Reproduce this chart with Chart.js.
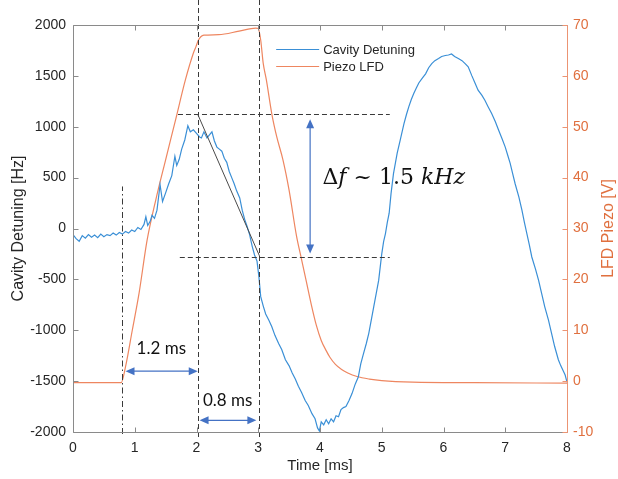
<!DOCTYPE html>
<html><head><meta charset="utf-8">
<script src="https://cdn.jsdelivr.net/npm/chart.js@4.4.0/dist/chart.umd.min.js"></script>
<style>html,body{margin:0;padding:0;background:#fff}canvas{display:block}</style>
</head><body>
<canvas id="c" width="618" height="479"></canvas>
<script>
// ---- Cavity detuning [Hz] vs time [ms]
const timeDetuning = [0.00,0.05,0.10,0.15,0.20,0.25,0.30,0.35,0.40,0.45,0.50,0.55,0.60,0.65,0.70,0.75,0.80,0.85,0.90,0.95,1.00,1.05,1.10,1.15,1.18,1.21,1.25,1.28,1.32,1.36,1.41,1.45,1.50,1.55,1.60,1.65,1.68,1.72,1.76,1.81,1.86,1.90,1.95,2.00,2.05,2.08,2.12,2.17,2.21,2.25,2.29,2.33,2.37,2.41,2.45,2.49,2.53,2.57,2.61,2.65,2.70,2.74,2.78,2.82,2.86,2.90,2.94,2.98,3.01,3.04,3.08,3.12,3.17,3.22,3.27,3.33,3.38,3.44,3.50,3.55,3.60,3.65,3.70,3.76,3.81,3.87,3.92,3.96,3.99,4.02,4.06,4.10,4.14,4.18,4.22,4.26,4.30,4.34,4.38,4.42,4.47,4.52,4.57,4.62,4.66,4.70,4.75,4.79,4.83,4.87,4.91,4.95,5.00,5.03,5.06,5.09,5.12,5.15,5.19,5.22,5.25,5.30,5.36,5.40,5.44,5.48,5.52,5.56,5.60,5.66,5.71,5.76,5.81,5.86,5.92,5.97,6.03,6.08,6.13,6.18,6.24,6.30,6.35,6.40,6.46,6.51,6.56,6.62,6.67,6.72,6.78,6.84,6.89,6.95,7.00,7.04,7.08,7.12,7.16,7.22,7.27,7.31,7.35,7.39,7.43,7.49,7.54,7.59,7.64,7.70,7.75,7.80,7.86,7.90,7.94,7.97,8.00];
const detuning = [-60,-100,-125,-70,-95,-60,-85,-65,-90,-55,-80,-60,-70,-45,-65,-40,-55,-30,-45,-15,-30,10,-10,40,115,30,70,130,100,180,430,265,350,440,520,710,620,680,780,870,1010,950,970,935,900,890,950,890,920,950,860,800,780,760,690,650,560,500,440,370,300,180,90,20,-60,-170,-260,-320,-470,-670,-760,-840,-900,-965,-1050,-1130,-1190,-1290,-1350,-1420,-1480,-1550,-1610,-1690,-1740,-1820,-1870,-1960,-1990,-1900,-1930,-1880,-1920,-1870,-1900,-1840,-1850,-1780,-1760,-1750,-1690,-1620,-1530,-1460,-1330,-1240,-1130,-1030,-900,-770,-640,-510,-250,-130,-50,60,150,340,540,640,740,870,1030,1120,1200,1270,1330,1380,1430,1480,1520,1580,1620,1650,1670,1690,1700,1705,1715,1690,1670,1650,1620,1590,1500,1430,1360,1310,1260,1200,1130,1050,970,880,800,720,640,540,440,310,180,60,-50,-160,-280,-400,-510,-640,-770,-900,-1030,-1160,-1290,-1350,-1400,-1440,-1510];

// ---- Piezo LFD [V] vs time [ms]
const timePiezo = [0.00,0.78,0.85,0.96,1.07,1.20,1.34,1.50,1.66,1.82,1.95,1.99,2.03,2.07,2.12,2.36,2.69,2.96,3.00,3.04,3.08,3.13,3.22,3.30,3.40,3.50,3.62,3.70,3.78,3.86,3.94,4.02,4.10,4.16,4.25,4.35,4.45,4.60,4.80,5.00,5.50,6.50,8.00];
const piezo = [-0.3,-0.3,2.8,10,17.3,27.7,35.6,43.5,51.3,59.2,64.5,65.7,67.0,67.7,68.0,68.1,68.8,69.4,69.3,67,62.5,59.3,52.5,48,43.5,37.5,28.5,24,19.5,15,11,8,6,4.7,3.3,2.3,1.6,0.9,0.4,0.1,-0.2,-0.3,-0.4];

// ---- axes
const xTickValues = [0,1,2,3,4,5,6,7,8];
const yTickValues = [-2000,-1500,-1000,-500,0,500,1000,1500,2000];
const y2TickValues = [-10,0,10,20,30,40,50,60,70];
const seriesNames = ['Cavity Detuning','Piezo LFD'];

// ---- annotations (data units)
const vDashX = [2.02, 3.02];
const vDashDot = {x: 0.8, y1: -2000, y2: 413};
const hDash = [{y: 1122, x1: 1.70, x2: 5.13}, {y: -285, x1: 1.73, x2: 5.13}];
const slopeLine = [[2.02, 1122], [3.02, -270]];
const vArrow = {x: 3.84, y1: 1122, y2: -285};
const hArrows = [{y: -1402, x1: 0.85, x2: 2.02}, {y: -1885, x1: 2.05, x2: 2.97}];
const hArrowLabels = [{x: 1.43, y: -1176, text: '1.2 ms'}, {x: 2.505, y: -1688, text: '0.8 ms'}];
const deltaLabel = {x: 4.04, y: 439};

const BLUE = '#3a8fd6', ORANGE = '#ee8660', ORANGE_AX = '#e0703f', GRAY = '#8a8a8a', TXT = '#262626';

const annot = {
  id: 'annot',
  afterDatasetsDraw(chart) {
    const {ctx, chartArea: a, scales: {x, y}} = chart;
    const X = v => x.getPixelForValue(v), Y = v => y.getPixelForValue(v);
    const line = (x1, y1, x2, y2) => {ctx.beginPath(); ctx.moveTo(x1, y1); ctx.lineTo(x2, y2); ctx.stroke();};
    ctx.save();
    ctx.strokeStyle = '#3a3a3a'; ctx.lineWidth = 1;
    ctx.setLineDash([5, 3]);
    vDashX.forEach(v => {const p = Math.round(X(v)) + 0.5; line(p, 0, p, a.bottom + 8);});
    hDash.forEach(h => {const p = Math.round(Y(h.y)) + 0.5; line(X(h.x1), p, X(h.x2), p);});
    ctx.setLineDash([6, 3, 1.5, 3]);
    {const p = Math.round(X(vDashDot.x)) + 0.5; line(p, Y(vDashDot.y1) + 2, p, Y(vDashDot.y2));}
    ctx.setLineDash([]);
    ctx.strokeStyle = '#4a4a4a';
    line(X(slopeLine[0][0]), Y(slopeLine[0][1]), X(slopeLine[1][0]), Y(slopeLine[1][1]));
    // arrows
    const AC = '#4472c4';
    ctx.strokeStyle = AC; ctx.fillStyle = AC; ctx.lineWidth = 1.2;
    const head = (tx, ty, dx, dy) => {
      const L = 9, W = 4;
      ctx.beginPath(); ctx.moveTo(tx, ty);
      ctx.lineTo(tx - dx * L - dy * W, ty - dy * L + dx * W);
      ctx.lineTo(tx - dx * L + dy * W, ty - dy * L - dx * W);
      ctx.closePath(); ctx.fill();
    };
    {const px = X(vArrow.x), t = Y(vArrow.y1) + 5, b = Y(vArrow.y2) - 4;
      line(px, t + 6, px, b - 6); head(px, t, 0, -1); head(px, b, 0, 1);}
    hArrows.forEach(h => {const py = Y(h.y), l = X(h.x1), r = X(h.x2);
      line(l + 6, py, r - 6, py); head(l, py, -1, 0); head(r, py, 1, 0);});
    // labels
    ctx.fillStyle = '#111';
    ctx.font = '17px Lato'; ctx.textAlign = 'center'; ctx.textBaseline = 'middle';
    hArrowLabels.forEach(l => ctx.fillText(l.text, X(l.x), Y(l.y)));
    ctx.textAlign = 'left'; ctx.textBaseline = 'alphabetic';
    const parts = [['Δ', ''], ['f', 'italic '], [' ~ 1.5 ', ''], ['kHz', 'italic ']];
    let cx = X(deltaLabel.x); const by = Y(deltaLabel.y);
    parts.forEach(([s, st]) => {ctx.font = st + '22px "DejaVu Serif"'; ctx.fillText(s, cx, by); cx += ctx.measureText(s).width;});
    ctx.restore();
  },
  afterDraw(chart) {
    const {ctx, chartArea: a, scales: {x, y, y2}} = chart;
    const line = (x1, y1, x2, y2_) => {ctx.beginPath(); ctx.moveTo(x1, y1); ctx.lineTo(x2, y2_); ctx.stroke();};
    ctx.save();
    ctx.lineWidth = 1;
    const L = a.left + 0.5, R = a.right + 0.5, T = a.top + 0.5, B = a.bottom + 0.5;
    ctx.strokeStyle = GRAY;
    line(L, T, R, T); line(L, B, R, B); line(L, T, L, B);
    xTickValues.forEach(v => {const p = Math.round(x.getPixelForValue(v)) + 0.5; line(p, B, p, B - 5); line(p, T, p, T + 5);});
    yTickValues.forEach(v => {const p = Math.round(y.getPixelForValue(v)) + 0.5; line(L, p, L + 5, p);});
    ctx.strokeStyle = '#ec9473';
    line(R, T, R, B);
    y2TickValues.forEach(v => {const p = Math.round(y2.getPixelForValue(v)) + 0.5; line(R, p, R - 5, p);});
    ctx.fillStyle = ORANGE_AX; ctx.font = '16px "Liberation Sans"';
    ctx.textAlign = 'center'; ctx.textBaseline = 'middle';
    ctx.translate(609, (a.top + a.bottom) / 2); ctx.rotate(-Math.PI / 2);
    ctx.fillText('LFD Piezo [V]', 0, 0);
    ctx.setTransform(1, 0, 0, 1, 0, 0);
    ctx.font = '13px "Liberation Sans"'; ctx.textAlign = 'left'; ctx.fillStyle = TXT;
    const legX = x.getPixelForValue(3.29), rows = [49.5, 66.5];
    chart.data.datasets.forEach((d, i) => {
      ctx.strokeStyle = d.borderColor; ctx.lineWidth = 1.2;
      line(legX, rows[i], legX + 43, rows[i]);
      ctx.fillText(d.label, legX + 47, rows[i] + 1);
    });
    ctx.restore();
  }
};

const tickFont = {family: 'Liberation Sans', size: 14};
const plain = v => String(v);
new Chart(document.getElementById('c'), {
  type: 'line',
  data: {
    datasets: [
      {label: seriesNames[0], data: timeDetuning.map((t, i) => ({x: t, y: detuning[i]})), borderColor: BLUE, borderWidth: 1.2, pointRadius: 0, tension: 0, yAxisID: 'y'},
      {label: seriesNames[1], data: timePiezo.map((t, i) => ({x: t, y: piezo[i]})), borderColor: ORANGE, borderWidth: 1.2, pointRadius: 0, cubicInterpolationMode: 'monotone', yAxisID: 'y2'}
    ]
  },
  options: {
    responsive: false, animation: false, devicePixelRatio: 1,
    layout: {padding: {top: 25, left: 0, right: 0, bottom: 0}},
    plugins: {legend: {display: false}, tooltip: {enabled: false}},
    scales: {
      x: {type: 'linear', min: 0, max: 8, grid: {display: false, drawTicks: false}, border: {display: false},
        afterBuildTicks: s => {s.ticks = xTickValues.map(v => ({value: v}));},
        afterFit: s => {s.height = 47;},
        ticks: {font: tickFont, color: TXT, padding: 8, autoSkip: false, maxRotation: 0, callback: plain},
        title: {display: true, text: 'Time [ms]', font: {family: 'Liberation Sans', size: 15}, color: TXT, padding: {top: 0, bottom: 4}}},
      y: {type: 'linear', position: 'left', min: -2000, max: 2000, grid: {display: false, drawTicks: false}, border: {display: false},
        afterBuildTicks: s => {s.ticks = yTickValues.map(v => ({value: v}));},
        afterFit: s => {s.width = 73;},
        ticks: {font: tickFont, color: TXT, padding: 7, autoSkip: false, callback: plain},
        title: {display: true, text: 'Cavity Detuning [Hz]', font: {family: 'Liberation Sans', size: 16}, color: TXT, padding: {top: 9, bottom: 0}}},
      y2: {type: 'linear', position: 'right', min: -10, max: 70, grid: {display: false, drawTicks: false}, border: {display: false},
        afterBuildTicks: s => {s.ticks = y2TickValues.map(v => ({value: v}));},
        afterFit: s => {s.width = 51;},
        ticks: {font: tickFont, color: ORANGE_AX, padding: 6, autoSkip: false, callback: plain}}
    }
  },
  plugins: [annot]
});
</script>
</body></html>
